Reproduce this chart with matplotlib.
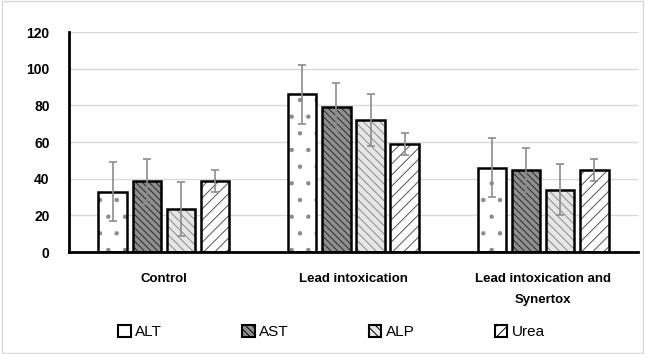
import matplotlib
matplotlib.use("Agg")
import matplotlib.pyplot as plt
import numpy as np

plt.rcParams['hatch.linewidth'] = 0.7

categories = ["Control", "Lead intoxication", "Lead intoxication and\nSynertox"]
series = ["ALT", "AST", "ALP", "Urea"]
values = {
    "ALT": [33, 86, 46],
    "AST": [38.5, 79, 45],
    "ALP": [23.5, 72, 34],
    "Urea": [39, 59, 44.5],
}
errors = {
    "ALT": [16, 16, 16],
    "AST": [12.5, 13, 12],
    "ALP": [14.5, 14, 14],
    "Urea": [6, 6, 6],
}
yticks = [0, 20, 40, 60, 80, 100, 120]

styles = {
    "ALT": dict(facecolor="white", hatch=".", hcol="#8a8a8a"),
    "AST": dict(facecolor="#8f8f8f", hatch="\\\\\\\\\\", hcol="#2a2a2a"),
    "ALP": dict(facecolor="#e6e6e6", hatch="\\\\\\\\", hcol="#8a8a8a"),
    "Urea": dict(facecolor="white", hatch="///", hcol="#555555"),
}

fig = plt.figure(figsize=(6.45, 3.54), dpi=100)
ax = fig.add_axes([0.1070, 0.288, 0.882, 0.6215])

x = np.arange(len(categories))
w = 0.15
offsets = [-0.27, -0.09, 0.09, 0.27]
handles = []
for s, off in zip(series, offsets):
    st = styles[s]
    ax.bar(x + off, values[s], w, facecolor=st["facecolor"], edgecolor=st["hcol"],
           hatch=st["hatch"], linewidth=0, zorder=2)
    ax.bar(x + off, values[s], w, facecolor="none", edgecolor="black", linewidth=1.8, zorder=3)
    ax.errorbar(x + off, values[s], yerr=errors[s], fmt="none", ecolor="#8c8c8c",
                elinewidth=1.2, capsize=3, capthick=1.2, zorder=4)
    handles.append(plt.Rectangle((0, 0), 1, 1, facecolor=st["facecolor"], edgecolor="black",
                                 hatch=st["hatch"], linewidth=1.5))

ax.set_xlim(-0.5, 2.5)
ax.set_ylim(0, 120)
ax.set_yticks(yticks)
ax.set_yticklabels([str(t) for t in yticks], fontsize=10, fontweight="bold", family="Liberation Sans")
ax.set_xticks(x)
ax.set_xticklabels(categories, fontsize=9.5, fontweight="bold", family="Liberation Sans",
                   linespacing=2.0)
ax.tick_params(axis="both", length=0)
ax.tick_params(axis="y", pad=14)
ax.tick_params(axis="x", pad=15)
ax.yaxis.grid(True, color="#d9d9d9", linewidth=1)
ax.set_axisbelow(True)
for sp in ["top", "right"]:
    ax.spines[sp].set_visible(False)
ax.spines["left"].set_linewidth(2)
ax.spines["bottom"].set_linewidth(2)

fig.legend(handles, series, loc="center", bbox_to_anchor=(0.514, 0.062), ncol=4, frameon=False,
           prop={"family": "Liberation Sans", "size": 11}, handlelength=0.8, handleheight=0.8,
           handletextpad=0.3, columnspacing=5.25)

fig.patches.append(plt.Rectangle((0.003, 0.003), 0.994, 0.994, transform=fig.transFigure,
                                 fill=False, edgecolor="#d9d9d9", linewidth=1))
fig.savefig("out.png", dpi=100)
